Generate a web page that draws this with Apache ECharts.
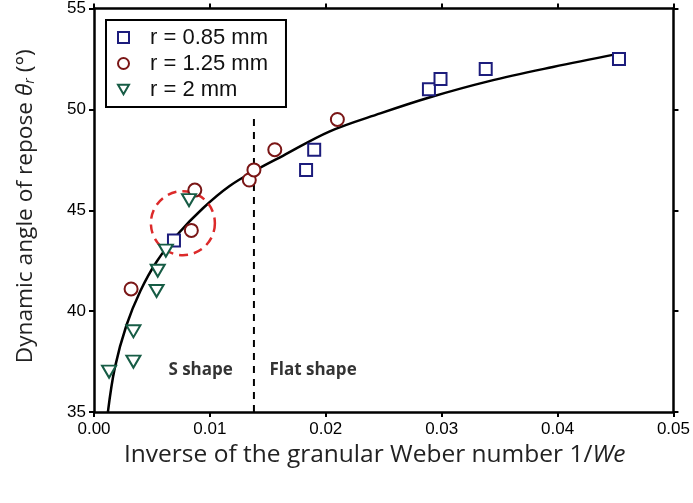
<!DOCTYPE html>
<html>
<head>
<meta charset="utf-8">
<script src="https://cdn.jsdelivr.net/npm/echarts@6/dist/echarts.min.js"></script>
<style>html,body{margin:0;padding:0;background:#fff}#c{width:693px;height:503px}</style>
</head>
<body>
<div id="c"></div>
<script>
// ---- data ----
const sqX = [0.0069, 0.0183, 0.0190, 0.0289, 0.0299, 0.0338, 0.0453];
const sqY = [43.5, 47.0, 48.0, 51.0, 51.5, 52.0, 52.5];
const ciX = [0.0032, 0.0084, 0.0087, 0.0134, 0.0138, 0.0156, 0.0210];
const ciY = [41.1, 44.0, 46.0, 46.5, 47.0, 48.0, 49.5];
const trX = [0.0013, 0.0034, 0.0034, 0.0054, 0.0055, 0.0062, 0.0082];
const trY = [37.0, 37.5, 39.0, 41.0, 42.0, 43.0, 45.5];
const fitX = [0.0012, 0.0018, 0.0028, 0.0040, 0.0054, 0.0072, 0.0094, 0.0117, 0.0140, 0.0163, 0.0203, 0.0247, 0.0290, 0.0341, 0.0396, 0.0452];
const fitY = [35.0, 37.2, 39.3, 41.0, 42.45, 43.8, 45.1, 46.2, 47.0, 47.7, 48.9, 49.8, 50.6, 51.4, 52.1, 52.75];
const divideX = [0.0138, 0.0138];
const divideY = [35, 49.8];
const ringCenter = [0.00767, 44.36];
const seriesNames = ['r = 0.85 mm', 'r = 1.25 mm', 'r = 2 mm'];
const regionLabels = ['S shape', 'Flat shape'];
const regionX = [0.0092, 0.0189];
const regionY = [37.05, 37.05];
const xTicks = [0, 0.05, 0.01];
const yTicks = [35, 55, 5];

const zip = (a, b) => a.map((v, i) => [v, b[i]]);
const NAVY = '#1c1c7c', MAROON = '#7a1616', GREEN = '#175c45';
const axisLine = {show: true, onZero: false, lineStyle: {color: '#000', width: 2.5}};
const axisTick = {show: true, inside: false, length: 5, lineStyle: {color: '#000', width: 2}};

const chart = echarts.init(document.getElementById('c'));
chart.setOption({
  animation: false,
  grid: {left: 94, right: 19, top: 6, bottom: 91},
  xAxis: [
    {type: 'value', position: 'bottom', min: xTicks[0], max: xTicks[1], interval: xTicks[2],
     axisLine, axisTick, splitLine: {show: false},
     axisLabel: {color: '#000', fontSize: 17, fontFamily: 'Liberation Sans', margin: 9,
                 formatter: v => v.toFixed(2)},
     name: '{n|Inverse of the granular Weber number 1/}{i|We}', nameLocation: 'middle', nameGap: 29,
     nameTextStyle: {padding: [0, 18, 0, 0], rich: {
       n: {fontSize: 24.5, fontFamily: 'Open Sans', color: '#222'},
       i: {fontSize: 24.5, fontFamily: 'Open Sans', fontStyle: 'italic', color: '#222'}}}},
    {type: 'value', position: 'top', min: xTicks[0], max: xTicks[1], interval: xTicks[2],
     axisLine, axisTick, axisLabel: {show: false}, splitLine: {show: false}}
  ],
  yAxis: [
    {type: 'value', position: 'left', min: yTicks[0], max: yTicks[1], interval: yTicks[2],
     axisLine, axisTick, splitLine: {show: false},
     axisLabel: {color: '#000', fontSize: 17, fontFamily: 'Liberation Sans', margin: 8},
     name: '{n|Dynamic angle of repose }{t|θ}{s|r}{n| (°)}', nameLocation: 'middle', nameGap: 57, nameRotate: 90,
     nameTextStyle: {padding: [0, 0, 0, 8], rich: {
       n: {fontSize: 22.7, fontFamily: 'Open Sans', color: '#222'},
       t: {fontSize: 22.7, fontFamily: 'Open Sans', fontStyle: 'italic', color: '#222'},
       s: {fontSize: 14, fontFamily: 'Open Sans', fontStyle: 'italic', color: '#222', verticalAlign: 'bottom', padding: [9, 0, 0, 0]}}}},
    {type: 'value', position: 'right', min: yTicks[0], max: yTicks[1], interval: yTicks[2],
     axisLine, axisTick, axisLabel: {show: false}, splitLine: {show: false}}
  ],
  legend: {
    orient: 'vertical', left: 106, top: 20,
    data: seriesNames,
    borderColor: '#000', borderWidth: 2, borderRadius: 0,
    padding: [5, 18, 5, 11], itemGap: 1,
    itemWidth: 11, itemHeight: 11,
    textStyle: {fontSize: 22, fontFamily: 'Liberation Sans', color: '#111', padding: [0, 0, 0, 16], lineHeight: 25}
  },
  series: [
    {type: 'line', name: 'fit', data: zip(fitX, fitY), smooth: 0.35, showSymbol: false,
     lineStyle: {color: '#000', width: 2.5}, z: 2},
    {type: 'line', name: 'divide', data: zip(divideX, divideY), showSymbol: false,
     lineStyle: {color: '#000', width: 2, type: [7, 6]}, z: 2},
    {type: 'scatter', name: 'ring', data: [ringCenter], symbol: 'circle', symbolSize: 64,
     itemStyle: {color: 'rgba(0,0,0,0)', borderColor: '#dc2a2a', borderWidth: 2.5, borderType: [9, 6], opacity: 1}, z: 3},
    {type: 'scatter', name: seriesNames[0], data: zip(sqX, sqY), symbol: 'rect', symbolSize: 12,
     itemStyle: {color: '#fff', borderColor: NAVY, borderWidth: 2, opacity: 1}, z: 4},
    {type: 'scatter', name: seriesNames[1], data: zip(ciX, ciY), symbol: 'circle', symbolSize: 13,
     itemStyle: {color: '#fff', borderColor: MAROON, borderWidth: 2, opacity: 1}, z: 4},
    {type: 'scatter', name: seriesNames[2], data: zip(trX, trY), symbol: 'path://M0,0 L10,0 L5,8.7 Z', symbolSize: [14, 12],
     itemStyle: {color: '#fff', borderColor: GREEN, borderWidth: 2, opacity: 1}, z: 4},
    {type: 'scatter', name: 'labels', data: zip(regionX, regionY).map((p, i) => ({value: p, name: regionLabels[i]})),
     symbolSize: 0, silent: true,
     label: {show: true, position: 'inside', formatter: p => p.name, color: '#000',
             fontSize: 17, fontWeight: 'bold', fontFamily: 'Open Sans'}, z: 5}
  ]
});
</script>
</body>
</html>
